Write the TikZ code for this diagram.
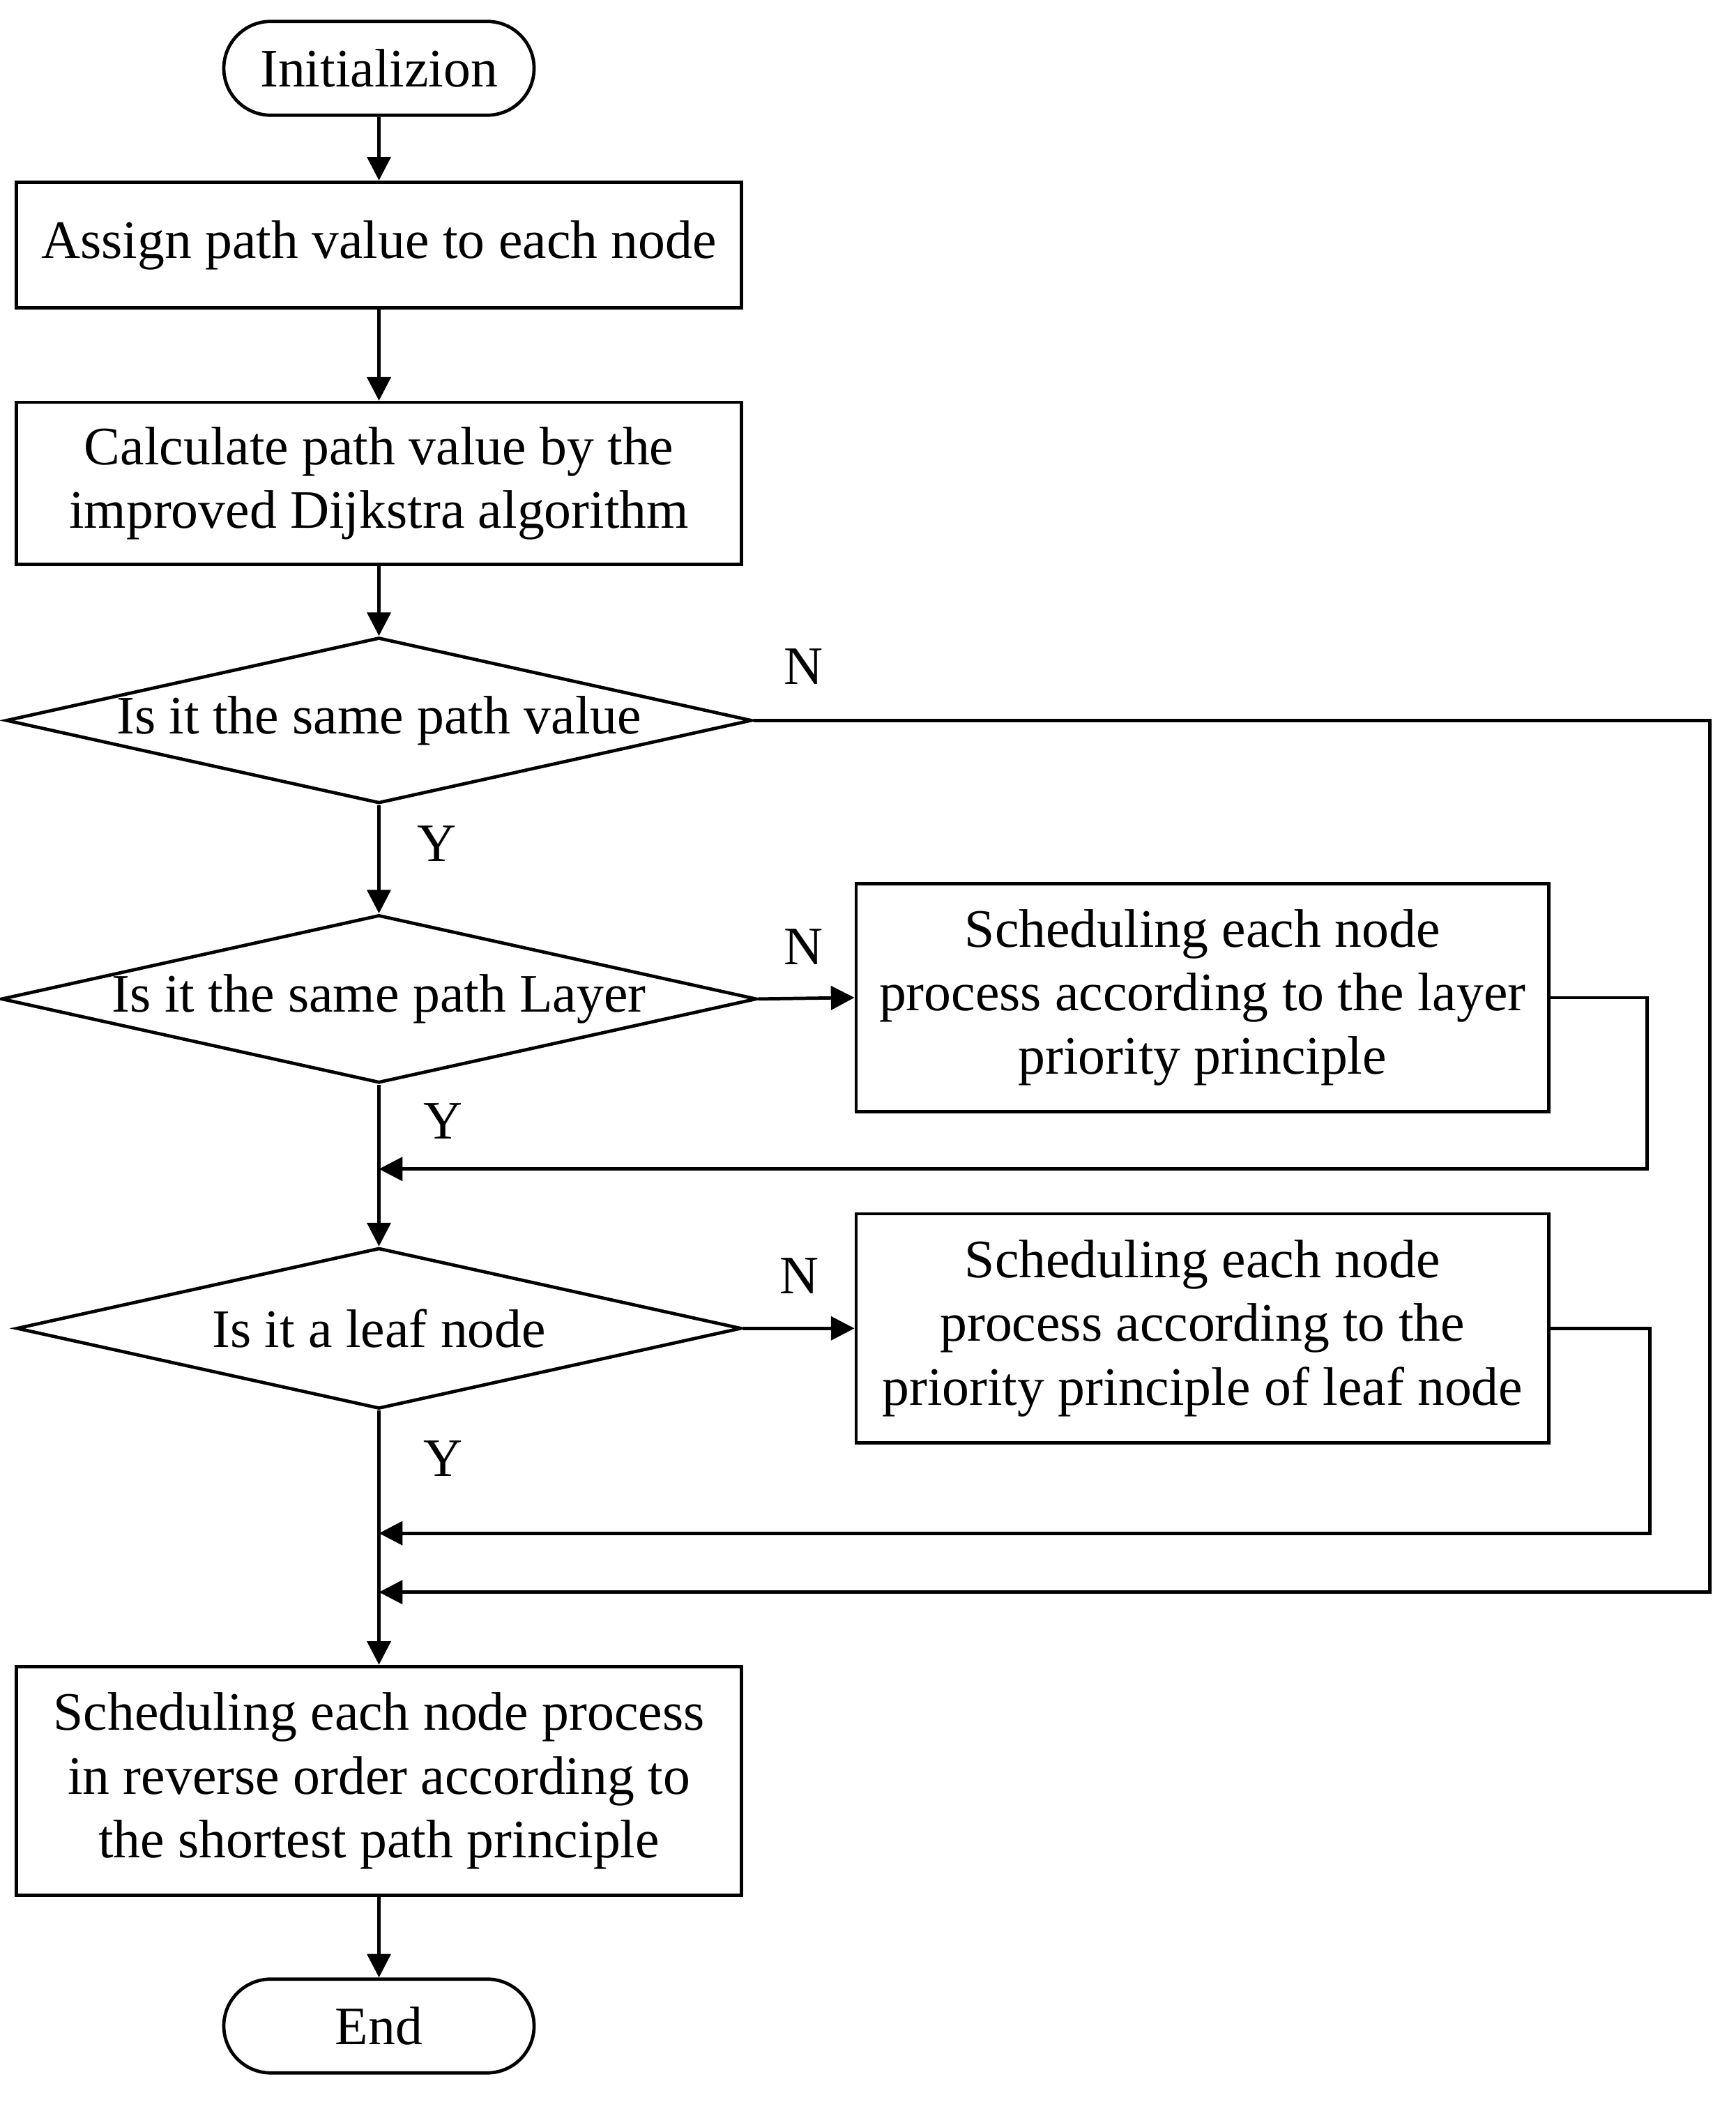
\documentclass[tikz,border=0pt]{standalone}
\usepackage{fontspec}
\setmainfont{Liberation Serif}
\usetikzlibrary{shapes.geometric,shapes.misc,arrows.meta}
\begin{document}
\begin{tikzpicture}[x=0.01cm,y=-0.01cm,line width=0.7pt,
 font=\fontsize{11.5}{13.5}\selectfont,
 box/.style={draw,rectangle,align=center,inner sep=0pt},
 term/.style={draw,rounded rectangle,minimum width=2.55cm,minimum height=0.7cm},
 dia/.style={draw,diamond,aspect=4.5,inner sep=0pt,minimum width=5.41cm,minimum height=1.2cm},
 arr/.style={-{Triangle[length=5pt,width=5pt]}},
 lab/.style={font=\fontsize{11.5}{13.5}\selectfont}]
\useasboundingbox (0,0) rectangle (1296,1575);
\node[term] (init) at (283,51) {Initializion};
\node[box,minimum width=5.41cm,minimum height=0.94cm] (b1) at (283,183) {Assign path value to each node};
\node[box,minimum width=5.41cm,minimum height=1.21cm] (b2) at (283,361) {Calculate path value by the\\improved Dijkstra algorithm};
\node[dia] (d1) at (283,538) {Is it the same path value};
\node[dia] (d2) at (283,746) {Is it the same path Layer};
\node[box,minimum width=5.17cm,minimum height=1.7cm] (b3) at (898,745) {Scheduling each node\\process according to the layer\\priority principle};
\node[dia] (d3) at (283,992) {Is it a leaf node};
\node[box,minimum width=5.17cm,minimum height=1.71cm] (b4) at (898,992) {Scheduling each node\\process according to the\\priority principle of leaf node};
\node[box,minimum width=5.41cm,minimum height=1.71cm] (b5) at (283,1330) {Scheduling each node process\\in reverse order according to\\the shortest path principle};
\node[term] (end) at (283,1513) {End};
\coordinate (m1) at (283,873);
\coordinate (m2) at (283,1145);
\coordinate (m3) at (283,1189);
\draw[arr] (init) -- (b1);
\draw[arr] (b1) -- (b2);
\draw[arr] (b2) -- (d1);
\draw[arr] (d1) -- (d2);
\draw[arr] (d2) -- (d3);
\draw[arr] (d3) -- (b5);
\draw[arr] (b5) -- (end);
\draw[arr] (d2.east) -- (b3.west);
\draw[arr] (d3.east) -- (b4.west);
\draw[arr] (b3.east) -- (1230,745) -- (1230,873) -- (m1);
\draw[arr] (b4.east) -- (1232,992) -- (1232,1145) -- (m2);
\draw[arr] (d1.east) -- (1277,538) -- (1277,1189) -- (m3);
\node[lab] (n1) at (600,498) {N};
\node[lab] (y1) at (326,630) {Y};
\node[lab] (n2) at (600,707) {N};
\node[lab] (y2) at (331,837) {Y};
\node[lab] (n3) at (597,953) {N};
\node[lab] (y3) at (331,1089) {Y};
\end{tikzpicture}
\end{document}
